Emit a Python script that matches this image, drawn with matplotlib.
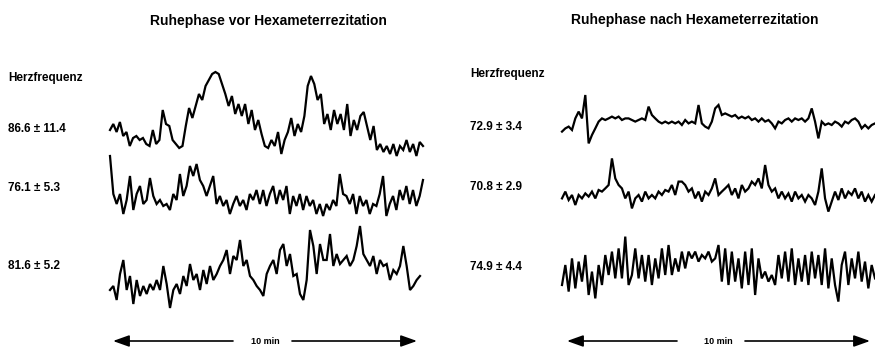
"""
Herzfrequenz in der Ruhephase vor und nach Hexameterrezitation (10 min Verlauf).
"""

import numpy as np
import matplotlib.pyplot as plt
from matplotlib.patches import FancyArrowPatch

plt.rcParams['font.family'] = ['Liberation Sans', 'DejaVu Sans']

vor_1 = [87, 90, 86, 91, 84, 86, 79, 83, 84, 82, 83, 80, 79, 87, 80, 82, 97, 90, 89, 82,
         80, 78, 79, 89, 98, 93, 99, 105, 102, 109, 112, 115, 116, 115, 110, 105, 99, 104, 95, 100,
         94, 100, 90, 97, 87, 92, 85, 79, 78, 82, 79, 86, 75, 82, 86, 93, 84, 90, 86, 94,
         109, 114, 110, 102, 105, 90, 95, 87, 97, 90, 95, 87, 100, 84, 92, 87, 94, 96, 89, 82,
         89, 77, 80, 76, 79, 75, 80, 74, 79, 77, 82, 76, 80, 74, 81, 79]
vor_2 = [97, 78, 73, 78, 68, 75, 87, 70, 78, 82, 73, 75, 86, 77, 73, 75, 72, 73, 70, 78,
         75, 88, 77, 82, 92, 87, 93, 85, 82, 77, 82, 87, 73, 77, 72, 75, 68, 73, 77, 72,
         75, 70, 78, 75, 80, 73, 80, 72, 78, 82, 73, 80, 75, 82, 68, 77, 72, 78, 70, 77,
         72, 75, 68, 73, 67, 73, 70, 75, 72, 88, 78, 77, 73, 78, 68, 77, 72, 75, 68, 73,
         72, 78, 87, 67, 73, 77, 70, 80, 75, 82, 73, 80, 72, 77, 85]
vor_3 = [72, 74, 67, 80, 87, 72, 79, 65, 77, 69, 74, 70, 75, 72, 77, 72, 84, 75, 63, 72,
         75, 70, 79, 74, 85, 77, 80, 72, 82, 75, 84, 77, 80, 84, 87, 92, 80, 89, 87, 97,
         84, 87, 79, 77, 74, 72, 69, 80, 84, 87, 80, 92, 95, 84, 90, 79, 80, 70, 67, 77,
         102, 94, 80, 95, 87, 87, 100, 84, 90, 85, 87, 89, 84, 87, 94, 104, 90, 87, 84, 89,
         80, 87, 84, 85, 77, 82, 80, 84, 94, 84, 72, 74, 77, 79]

nach_1 = [67.7, 69.3, 70.2, 68.5, 74.3, 77.7, 74.3, 86.0, 61.8, 66.0, 69.3, 72.7, 74.3, 73.5, 74.3,
          75.2, 74.3, 75.2, 73.5, 74.3, 74.3, 73.5, 72.7, 73.5, 74.3, 73.5, 80.2, 76.0, 74.3, 72.7,
          71.8, 72.7, 71.8, 72.7, 71.8, 72.7, 71.0, 73.5, 71.8, 72.7, 71.8, 81.0, 71.8, 70.2, 69.3,
          72.7, 79.3, 81.0, 76.0, 76.8, 76.0, 75.2, 76.0, 74.3, 75.2, 74.3, 75.2, 73.5, 74.3, 72.7,
          74.3, 72.7, 73.5, 71.8, 69.3, 72.7, 71.8, 73.5, 74.3, 72.7, 74.3, 73.5, 74.3, 72.7, 74.3,
          79.3, 72.7, 64.3, 72.7, 71.0, 71.8, 71.0, 72.7, 71.8, 70.2, 72.7, 71.8, 73.5, 74.3, 72.7,
          69.3, 71.0, 69.3, 71.0, 71.8]
nach_2 = [68.3, 71.7, 67.5, 70.0, 65.0, 70.0, 68.3, 70.8, 69.2, 71.7, 68.3, 72.5, 71.7, 73.3, 75.0,
          88.3, 78.3, 75.0, 73.3, 68.3, 71.7, 63.3, 68.3, 70.0, 66.7, 71.7, 68.3, 70.0, 68.3, 71.7,
          70.0, 72.5, 71.7, 75.0, 70.0, 76.7, 76.7, 75.0, 71.7, 73.3, 68.3, 71.7, 66.7, 71.7, 70.0,
          73.3, 78.3, 70.0, 71.7, 73.3, 75.0, 70.0, 73.3, 68.3, 75.0, 71.7, 73.3, 76.7, 75.0, 78.3,
          73.3, 85.0, 75.0, 71.7, 73.3, 68.3, 71.7, 68.3, 70.8, 66.7, 71.7, 68.3, 70.0, 66.7, 70.0,
          68.3, 65.0, 71.7, 83.3, 68.3, 61.7, 66.7, 71.7, 67.5, 73.3, 68.3, 71.7, 70.0, 73.3, 68.3,
          71.7, 66.7, 70.0, 66.7, 70.0]
nach_3 = [67.0, 77.0, 63.7, 80.3, 65.3, 78.7, 68.7, 82.0, 62.0, 73.7, 60.3, 77.0, 67.0, 82.0, 72.0,
          83.7, 70.3, 85.3, 70.3, 91.2, 67.0, 72.0, 85.3, 70.3, 82.0, 68.7, 82.0, 67.0, 80.3, 70.3,
          85.3, 72.0, 87.0, 72.0, 80.3, 73.7, 83.7, 75.3, 83.7, 80.3, 83.7, 78.7, 82.0, 80.3, 83.7,
          78.7, 80.3, 87.0, 68.7, 85.3, 67.0, 83.7, 68.7, 80.3, 65.3, 83.7, 67.0, 85.3, 62.0, 80.3,
          70.3, 73.7, 68.7, 72.0, 67.0, 82.0, 70.3, 83.7, 68.7, 85.3, 67.0, 80.3, 68.7, 82.0, 67.0,
          83.7, 70.3, 82.0, 67.0, 85.3, 65.3, 80.3, 67.0, 58.7, 77.0, 83.7, 67.0, 80.3, 70.3, 83.7,
          68.7, 78.7, 65.3, 77.0, 70.3]

labels_vor = ['86.6 ± 11.4', '76.1 ± 5.3', '81.6 ± 5.2']
labels_nach = ['72.9 ± 3.4', '70.8 ± 2.9', '74.9 ± 4.4']

W, H = 875, 353
fig = plt.figure(figsize=(W / 100, H / 100), dpi=100)


def box(x0, x1, y0, y1):
    # pixel box (top-left origin) -> figure fraction rect
    return [x0 / W, 1 - y1 / H, (x1 - x0) / W, (y1 - y0) / H]


def ftext(x, y, s, **kw):
    fig.text(x / W, 1 - y / H, s, **kw)


# one small axes per trace: (data, pixel box, y limits)
traces = [
    (vor_1, box(110, 423, 60, 170), (67, 122)),
    (vor_2, box(110, 423, 150, 230), (60, 100)),
    (vor_3, box(110, 420, 220, 320), (57, 107)),
    (nach_1, box(562, 875, 85, 150), (58.5, 91)),
    (nach_2, box(562, 875, 150, 220), (57.5, 92.5)),
    (nach_3, box(562, 875, 220, 310), (54.5, 99.5)),
]
for hr, rect, ylim in traces:
    ax = fig.add_axes(rect)
    t = np.linspace(0, 10, len(hr))
    ax.plot(t, hr, color='black', lw=1.6, solid_joinstyle='miter', clip_on=False)
    ax.set_xlim(0, 10)
    ax.set_ylim(*ylim)
    ax.axis('off')

# titles
ftext(268, 21, 'Ruhephase vor Hexameterrezitation', fontsize=10, fontweight='bold',
      ha='center', va='center')
ftext(695, 20, 'Ruhephase nach Hexameterrezitation', fontsize=10, fontweight='bold',
      ha='center', va='center')

# row labels
ftext(8, 78, 'Herzfrequenz', fontsize=8.5, fontweight='bold', va='center')
ftext(470, 74, 'Herzfrequenz', fontsize=8.5, fontweight='bold', va='center')
for lab, y in zip(labels_vor, [129, 188, 266]):
    ftext(8, y, lab, fontsize=8.5, fontweight='bold', va='center')
for lab, y in zip(labels_nach, [127, 187, 267]):
    ftext(470, y, lab, fontsize=8.5, fontweight='bold', va='center')


# 10 min arrows
def arrow(xa, xb, y):
    p = FancyArrowPatch((xa / W, 1 - y / H), (xb / W, 1 - y / H), transform=fig.transFigure,
                        arrowstyle='-|>,head_length=0.7,head_width=0.25', mutation_scale=14,
                        lw=1.2, color='black', shrinkA=0, shrinkB=0)
    fig.add_artist(p)


arrow(233, 113, 341)
arrow(292, 417, 341)
ftext(265, 341, '10 min', fontsize=6.5, fontweight='bold', ha='center', va='center')
arrow(677, 567, 341)
arrow(745, 870, 341)
ftext(718, 341, '10 min', fontsize=6.5, fontweight='bold', ha='center', va='center')

plt.savefig('out.png', dpi=100)
